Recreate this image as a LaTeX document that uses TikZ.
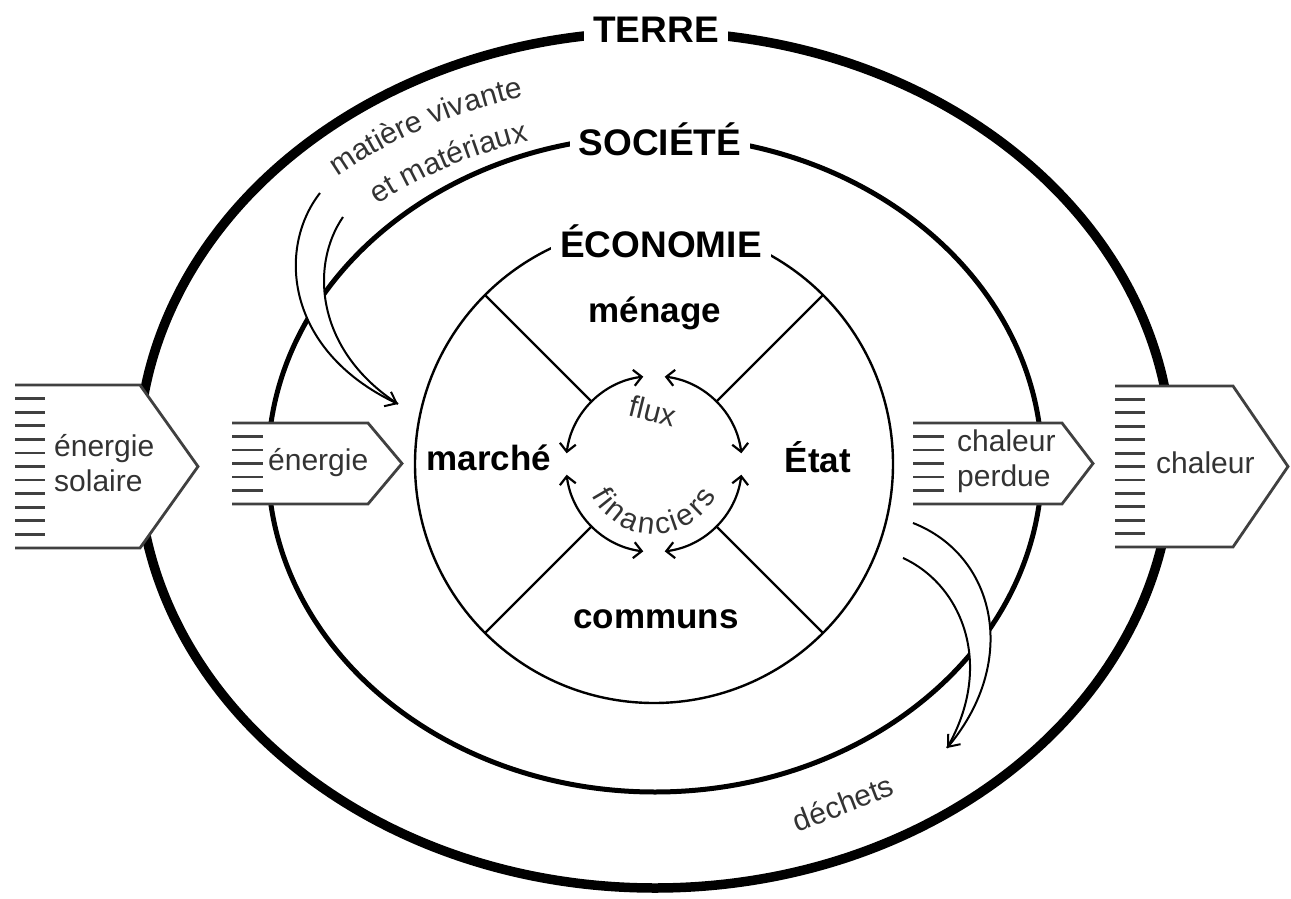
\documentclass[tikz,border=0pt]{standalone}
\usepackage{fontspec}
\setmainfont{Liberation Sans}
\usetikzlibrary{arrows.meta,decorations.text}

\newcommand{\ringfont}{\fontsize{37}{37}\selectfont\bfseries}
\newcommand{\sectorfont}{\fontsize{35}{35}\selectfont\bfseries}
\newcommand{\flowfont}{\fontsize{30}{35}\selectfont}
\newcommand{\cyclefont}{\fontsize{30}{30}\selectfont}

\tikzset{
  terreline/.style={line width=9.5pt},
  societeline/.style={line width=5pt},
  ecoline/.style={line width=2.4pt},
  ringlabel/.style={fill=white,inner xsep=9pt,inner ysep=6pt,font=\ringfont,anchor=base},
  sector/.style={font=\sectorfont,anchor=base},
  flowbox/.style={draw=black!75,fill=white,line width=2.8pt},
  hatch/.style={draw=black!75,line width=2.8pt},
  flowtext/.style={font=\flowfont,text=black!80,align=left,anchor=west,inner sep=0pt},
  cyclearrow/.style={line width=2.2pt,{Straight Barb[length=8pt,width=16pt]}-{Straight Barb[length=8pt,width=16pt]}},
  band/.style={line width=2pt}
}

\begin{document}
\begin{tikzpicture}[x=1pt,y=1pt]
  \useasboundingbox (0,0) rectangle (1291,-899);
  \coordinate (gaia) at (655,-462);
  \coordinate (eco) at (654,-464);
  %draw the three rings
  \draw [terreline] (655,-460) ellipse [x radius=517,y radius=428];
  \draw [societeline] (655,-464) ellipse [x radius=387,y radius=328];
  \draw [ecoline] (eco) circle [radius=239];
  \node [ringlabel] (terre) at (656,-43) {TERRE};
  \node [ringlabel] (societe) at (660,-155) {SOCIÉTÉ};
  \node [ringlabel] (economie) at (661,-257) {ÉCONOMIE};
  %draw the four sectors
  \foreach \a in {45,135,225,315}
    \draw [ecoline] (eco) ++(\a:88) -- ++(\a:151);
  \node [sector] (menage) at (655,-322) {ménage};
  \node [sector] (marche) at (489,-470) {marché};
  \node [sector] (etat) at (818,-472) {État};
  \node [sector] (communs) at (656,-628) {communs};
  %draw the money cycle
  \foreach \a in {7,97,187,277}
    \draw [cyclearrow] (eco) ++(\a:88) arc [start angle=\a,end angle=\a+76,radius=88];
  \node [font=\cyclefont,text=black!80,rotate=-14] (flux) at (653,-411) {flux};
  \path [decorate,decoration={text along path,text align={fit to path},
     text={|\cyclefont\color{black!80}|financiers}}]
    ([shift={(207:70)}]eco) arc [start angle=207,end angle=333,radius=70];
  %matter going in
  \path [decorate,decoration={text along path,text align=center,
     text={|\flowfont\color{black!80}|matière vivante}}]
    ([shift={(140:481 and 380)}]gaia) arc [start angle=140,end angle=98,x radius=481,y radius=380];
  \path [decorate,decoration={text along path,text align=center,
     text={|\flowfont\color{black!80}|et matériaux}}]
    ([shift={(140:432 and 336)}]gaia) arc [start angle=140,end angle=98,x radius=432,y radius=336];
  \coordinate (inout) at (320,-193);
  \coordinate (inin) at (343,-217);
  \coordinate (intip) at (398,-404);
  \fill [white] (inout) .. controls (277,-248) and (285,-350) .. (intip)
    .. controls (315,-350) and (310,-265) .. (inin) -- cycle;
  \draw [band] (inin) .. controls (310,-265) and (315,-350) .. (intip);
  \draw [band,-{Straight Barb[length=10pt,width=16pt]}] (inout) .. controls (277,-248) and (285,-350) .. (intip);
  %waste going out
  \coordinate (outout) at (913,-523);
  \coordinate (outin) at (903,-558);
  \coordinate (outtip) at (947,-748);
  \fill [white] (outout) .. controls (995,-555) and (1020,-660) .. (outtip)
    .. controls (995,-665) and (962,-585) .. (outin) -- cycle;
  \draw [band] (outin) .. controls (962,-585) and (995,-665) .. (outtip);
  \draw [band,-{Straight Barb[length=10pt,width=16pt]}] (outout) .. controls (995,-555) and (1020,-660) .. (outtip);
  \node [font=\flowfont,text=black!80,rotate=21] (dechets) at (843,-803) {déchets};
  %energy in
  \filldraw [flowbox] (15,-385) -- (140,-385) -- (198,-466.5) -- (140,-548) -- (15,-548);
  \foreach \k in {1,...,11}
    \draw [hatch] (15,-385-\k*13.58) -- ++(30,0);
  \node [flowtext] (solaire) at (54,-463) {énergie\\solaire};
  \filldraw [flowbox] (232,-423) -- (368,-423) -- (402,-463.5) -- (368,-504) -- (232,-504);
  \foreach \k in {1,...,5}
    \draw [hatch] (232,-423-\k*13.5) -- ++(31,0);
  \node [flowtext] (energie) at (268,-463) {énergie};
  %heat out
  \filldraw [flowbox] (913,-423) -- (1062,-423) -- (1093,-463.5) -- (1062,-504) -- (913,-504);
  \foreach \k in {1,...,5}
    \draw [hatch] (913,-423-\k*13.5) -- ++(31,0);
  \node [flowtext] (perdue) at (957,-461) {chaleur\\perdue};
  \filldraw [flowbox] (1115,-386) -- (1233,-386) -- (1288,-466.5) -- (1233,-547) -- (1115,-547);
  \foreach \k in {1,...,11}
    \draw [hatch] (1115,-386-\k*13.42) -- ++(30,0);
  \node [flowtext] (chaleur) at (1156,-463) {chaleur};
\end{tikzpicture}
\end{document}
